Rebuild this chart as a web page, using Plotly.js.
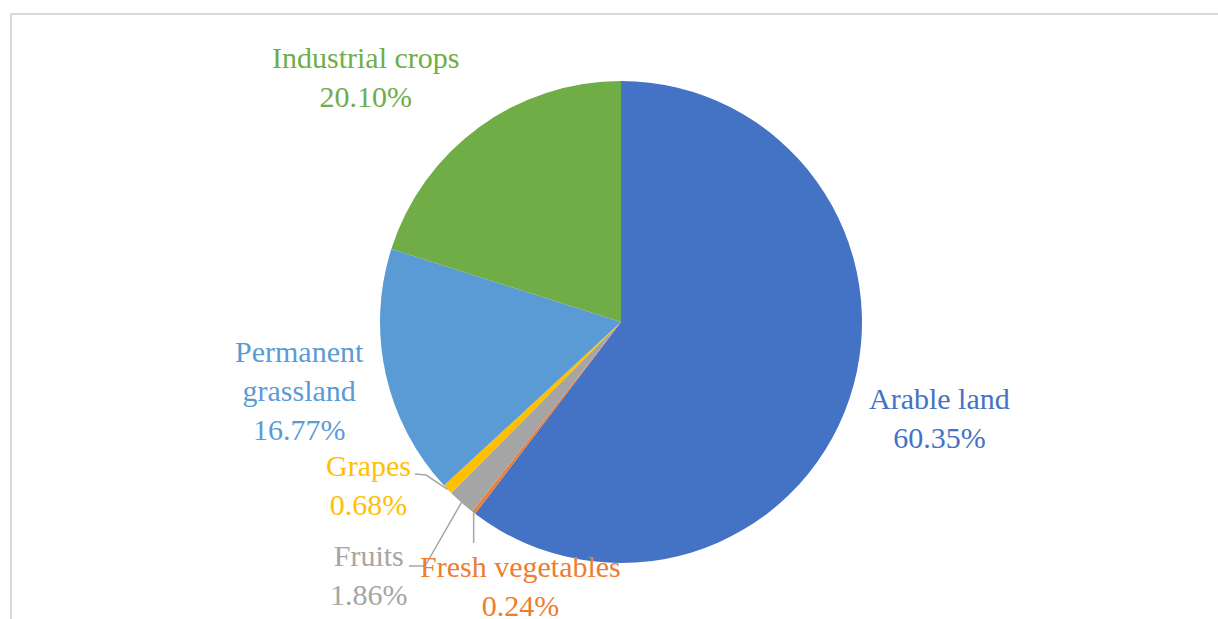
<!DOCTYPE html>
<html>
<head>
<meta charset="utf-8">
<script src="https://cdn.plot.ly/plotly-3.0.1.min.js"></script>
<style>
  html, body { margin: 0; padding: 0; background: #ffffff; }
  #chart { width: 1218px; height: 619px; }
</style>
</head>
<body>
<div id="chart"></div>
<script>
// ---- Data ----
const categories = ["Arable land", "Fresh vegetables", "Fruits", "Grapes", "Permanent grassland", "Industrial crops"];
const shares = [60.35, 0.24, 1.86, 0.68, 16.77, 20.10];
const shareLabels = ["60.35%", "0.24%", "1.86%", "0.68%", "16.77%", "20.10%"];
const labelLines = [["Arable land"], ["Fresh vegetables"], ["Fruits"], ["Grapes"], ["Permanent", "grassland"], ["Industrial crops"]];
const colors = ["#4472C4", "#ED7D31", "#A5A5A5", "#FFC000", "#5B9BD5", "#70AD47"];

// ---- Layout helpers ----
const W = 1218, H = 619;
const CX = 621, CY = 322, R = 241;
const px = x => x / W;
const py = y => 1 - y / H;

// label block centres (pixels)
const labelPos = [
  [939, 418],  // Arable land
  [520, 586],  // Fresh vegetables
  [369, 575],  // Fruits
  [368, 485],  // Grapes
  [299, 390],  // Permanent grassland
  [365, 77]    // Industrial crops
];

// mid-angle edge point of each slice (clockwise from 12 o'clock)
const total = shares.reduce((a, b) => a + b, 0);
const edge = [];
let cum = 0;
shares.forEach(v => {
  const mid = (cum + v / 2) / total * 2 * Math.PI;
  edge.push([CX + R * Math.sin(mid), CY - R * Math.cos(mid)]);
  cum += v;
});

const trace = {
  type: "pie",
  labels: categories,
  values: shares,
  sort: false,
  direction: "clockwise",
  rotation: 0,
  textinfo: "none",
  hoverinfo: "label+percent",
  marker: { colors: colors, line: { width: 0 } },
  domain: { x: [px(CX - R), px(CX + R)], y: [py(CY + R), py(CY - R)] },
  showlegend: false
};

const FONT = "Liberation Serif";
const annotations = categories.map((c, i) => ({
  xref: "paper", yref: "paper",
  x: px(labelPos[i][0]), y: py(labelPos[i][1]),
  xanchor: "center", yanchor: "middle",
  text: labelLines[i].concat([shareLabels[i]]).join("<br>"),
  showarrow: false,
  align: "center",
  font: { family: FONT, size: 30, color: colors[i] }
}));

const lineStyle = { color: "#A6A6A6", width: 1.5 };
const P = (x, y) => px(x).toFixed(5) + "," + py(y).toFixed(5);
const shapes = [
  // outer frame (top and left edges)
  { type: "path", xref: "paper", yref: "paper", path: "M" + P(1218, 14) + " L" + P(11, 14) + " L" + P(11, 619),
    line: { color: "#D9D9D9", width: 2 } },
  // Grapes leader
  { type: "path", xref: "paper", yref: "paper", path: "M" + P(415, 474) + " L" + P(426, 475) + " L" + P(edge[3][0], edge[3][1]),
    line: lineStyle },
  // Fruits leader
  { type: "path", xref: "paper", yref: "paper", path: "M" + P(409, 566) + " L" + P(425, 566) + " L" + P(edge[2][0], edge[2][1]),
    line: lineStyle },
  // Fresh vegetables leader
  { type: "path", xref: "paper", yref: "paper", path: "M" + P(edge[1][0], edge[1][1]) + " L" + P(edge[1][0], 543),
    line: lineStyle }
];

const layout = {
  width: W, height: H,
  margin: { l: 0, r: 0, t: 0, b: 0 },
  paper_bgcolor: "#ffffff",
  plot_bgcolor: "#ffffff",
  showlegend: false,
  font: { family: FONT },
  annotations: annotations,
  shapes: shapes
};

Plotly.newPlot("chart", [trace], layout, { displayModeBar: false, staticPlot: true });
</script>
</body>
</html>
